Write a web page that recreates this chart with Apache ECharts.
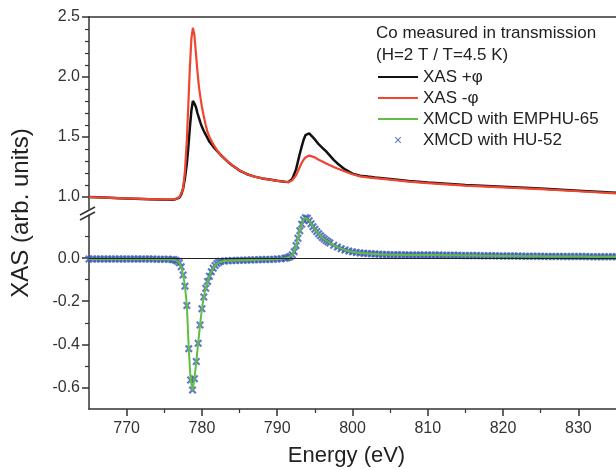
<!DOCTYPE html>
<html>
<head>
<meta charset="utf-8">
<script src="https://cdn.jsdelivr.net/npm/echarts@6.0.0/dist/echarts.min.js"></script>
<style>
  html, body { margin: 0; padding: 0; background: #fff; }
  #main { width: 616px; height: 470px; }
</style>
</head>
<body>
<div id="main"></div>
<script>
// energy axis (eV) for the two XAS spectra
const xasEnergy = [765, 767, 769, 771, 773, 775, 776, 776.5, 777, 777.25, 777.5, 777.75, 778, 778.2, 778.4, 778.6, 778.8,
  779, 779.2, 779.4, 779.6, 779.8, 780, 780.25, 780.5, 780.75, 781, 781.5, 782, 782.5, 783, 783.5, 784, 785, 786, 787,
  788, 789, 790, 791, 791.5, 792, 792.5, 793, 793.25, 793.5, 793.75, 794, 794.25, 794.5, 795, 795.5, 796, 796.5, 797,
  797.5, 798, 799, 800, 801, 802, 803, 805, 807.5, 810, 815, 820, 825, 830, 835];
// XAS +phi (black)
const xasPlus = [1.000, 0.995, 0.990, 0.986, 0.982, 0.978, 0.978, 0.982, 0.995, 1.02, 1.07, 1.16, 1.28, 1.42, 1.58, 1.72, 1.80,
  1.78, 1.75, 1.70, 1.66, 1.62, 1.585, 1.55, 1.52, 1.49, 1.46, 1.42, 1.385, 1.35, 1.32, 1.29, 1.265, 1.22, 1.19, 1.17,
  1.155, 1.145, 1.135, 1.127, 1.125, 1.15, 1.23, 1.36, 1.42, 1.475, 1.515, 1.53, 1.53, 1.515, 1.48, 1.44, 1.41, 1.38, 1.345,
  1.31, 1.28, 1.23, 1.195, 1.178, 1.17, 1.163, 1.15, 1.133, 1.12, 1.10, 1.085, 1.07, 1.053, 1.035];
// XAS -phi (red)
const xasMinus = [1.000, 0.995, 0.990, 0.986, 0.982, 0.978, 0.979, 0.984, 1.000, 1.03, 1.07, 1.22, 1.48, 1.78, 2.08, 2.32, 2.41,
  2.35, 2.20, 2.05, 1.92, 1.83, 1.75, 1.67, 1.60, 1.54, 1.50, 1.44, 1.39, 1.35, 1.32, 1.29, 1.265, 1.22, 1.19, 1.17,
  1.155, 1.145, 1.135, 1.127, 1.124, 1.14, 1.18, 1.25, 1.285, 1.31, 1.33, 1.34, 1.345, 1.345, 1.33, 1.31, 1.295, 1.28, 1.265,
  1.25, 1.237, 1.212, 1.19, 1.172, 1.164, 1.157, 1.145, 1.128, 1.115, 1.095, 1.08, 1.065, 1.048, 1.03];

// XMCD [energy, value]
const xmcdPoints = [
  [765, -0.004], [765.5, -0.004], [766, -0.004], [766.5, -0.004], [767, -0.004], [767.5, -0.004], [768, -0.004],
  [768.5, -0.004], [769, -0.004], [769.5, -0.004], [770, -0.004], [770.5, -0.004], [771, -0.004], [771.5, -0.004],
  [772, -0.004], [772.5, -0.004], [773, -0.004], [773.5, -0.004], [774, -0.005], [774.5, -0.005], [775, -0.005],
  [775.5, -0.005], [776, -0.006],
  [776.25, -0.007], [776.5, -0.010], [776.75, -0.015], [777, -0.022], [777.25, -0.040], [777.5, -0.078], [777.75, -0.13],
  [778, -0.22], [778.25, -0.42], [778.5, -0.565], [778.75, -0.612], [779, -0.56], [779.25, -0.48], [779.5, -0.395],
  [779.75, -0.31], [780, -0.235], [780.25, -0.18], [780.5, -0.14], [780.75, -0.108], [781, -0.084], [781.25, -0.063],
  [781.5, -0.047], [781.75, -0.034], [782, -0.025], [782.25, -0.019], [782.5, -0.015],
  [783, -0.013], [783.5, -0.012], [784, -0.011], [784.5, -0.011], [785, -0.010], [785.5, -0.010], [786, -0.009],
  [786.5, -0.009], [787, -0.008], [787.5, -0.008], [788, -0.007], [788.5, -0.006], [789, -0.006], [789.5, -0.005],
  [790, -0.004], [790.5, -0.003], [791, -0.001],
  [791.25, 0.001], [791.5, 0.004], [791.75, 0.008], [792, 0.016], [792.25, 0.030], [792.5, 0.058], [792.75, 0.092],
  [793, 0.127], [793.25, 0.157], [793.5, 0.177], [793.75, 0.187], [794, 0.185], [794.25, 0.173], [794.5, 0.159],
  [794.75, 0.146], [795, 0.134], [795.25, 0.123], [795.5, 0.113], [795.75, 0.104], [796, 0.096], [796.25, 0.089],
  [796.5, 0.082], [796.75, 0.076], [797, 0.070],
  [797.5, 0.060], [798, 0.051], [798.5, 0.044], [799, 0.038], [799.5, 0.033], [800, 0.029], [800.5, 0.026], [801, 0.024],
  [801.5, 0.022], [802, 0.021], [802.5, 0.020], [803, 0.019], [803.5, 0.018], [804, 0.017], [804.5, 0.017], [805, 0.016],
  [805.5, 0.016], [806, 0.016], [806.5, 0.016], [807, 0.015], [807.5, 0.015], [808, 0.015], [808.5, 0.015], [809, 0.015],
  [809.5, 0.014], [810, 0.014], [810.5, 0.014], [811, 0.014], [811.5, 0.014], [812, 0.013], [812.5, 0.013], [813, 0.013],
  [813.5, 0.013], [814, 0.013], [814.5, 0.012], [815, 0.012], [815.5, 0.012], [816, 0.012], [816.5, 0.012], [817, 0.011],
  [817.5, 0.011], [818, 0.011], [818.5, 0.011], [819, 0.011], [819.5, 0.010], [820, 0.010], [820.5, 0.010], [821, 0.010],
  [821.5, 0.010], [822, 0.010], [822.5, 0.009], [823, 0.009], [823.5, 0.009], [824, 0.009], [824.5, 0.009], [825, 0.009],
  [825.5, 0.008], [826, 0.008], [826.5, 0.008], [827, 0.008], [827.5, 0.008], [828, 0.008], [828.5, 0.007], [829, 0.007],
  [829.5, 0.007], [830, 0.007], [830.5, 0.007], [831, 0.007], [831.5, 0.006], [832, 0.006], [832.5, 0.006], [833, 0.006],
  [833.5, 0.006], [834, 0.006], [834.5, 0.006], [835, 0.006]
];

// tick positions
const xMajor = [770, 780, 790, 800, 810, 820, 830];
const xMinor = [775, 785, 795, 805, 815, 825];
const upMajor = [1.0, 1.5, 2.0, 2.5];
const upMinor = [1.1, 1.2, 1.3, 1.4, 1.6, 1.7, 1.8, 1.9, 2.1, 2.2, 2.3, 2.4];
const lowMajor = [-0.6, -0.4, -0.2, 0.0];
const lowMinor = [-0.5, -0.3, -0.1, 0.1];

const seriesNames = ['XAS +\u03c6', 'XAS -\u03c6', 'XMCD with EMPHU-65', 'XMCD with HU-52'];

const FONT = 'Liberation Sans, Arial, sans-serif';
const AXIS = '#333';
const crossPath = 'path://M0,1.9L1.9,0L5,3.1L8.1,0L10,1.9L6.9,5L10,8.1L8.1,10L5,6.9L1.9,10L0,8.1L3.1,5Z';
// legend icons, with tiny corner dots so the drawn part keeps its size in the 40x14 box
const box = 'M0,0L0.01,0L0,0.01Z M40,14L39.99,14L40,13.99Z ';
const lineLegend = 'path://' + box + 'M0,6L40,6L40,8L0,8Z';
const crossLegend = 'path://' + box +
  'M16.8,4.6L17.6,3.8L20,6.2L22.4,3.8L23.2,4.6L20.8,7L23.2,9.4L22.4,10.2L20,7.8L17.6,10.2L16.8,9.4L19.2,7Z';

let chart = echarts.init(document.getElementById('main'), null, { renderer: 'canvas' });

const pairs = (xs, ys) => xs.map((x, i) => [x, ys[i]]);

const majorY = (grid, min, max, ticks) => ({
  type: 'value', gridIndex: grid, min: min, max: max, position: 'left',
  axisLine: { show: true, onZero: false, lineStyle: { color: AXIS, width: 1.5 } },
  axisTick: { show: true, length: 7, customValues: ticks, lineStyle: { color: AXIS, width: 1.5 } },
  axisLabel: { show: true, customValues: ticks, margin: 9, color: '#333', fontSize: 16, fontFamily: FONT,
    formatter: v => v.toFixed(1) },
  splitLine: { show: false }
});
const minorY = (grid, min, max, ticks) => ({
  type: 'value', gridIndex: grid, min: min, max: max, position: 'left',
  axisLine: { show: false, onZero: false },
  axisTick: { show: true, length: 4, customValues: ticks, lineStyle: { color: AXIS, width: 1.2 } },
  axisLabel: { show: false },
  splitLine: { show: false }
});

chart.setOption({
  animation: false,
  backgroundColor: '#fff',
  title: {
    text: 'Co measured in transmission\n(H=2 T / T=4.5 K)',
    left: 371, top: 17,
    textStyle: { fontSize: 17, fontWeight: 'normal', color: '#222', fontFamily: FONT, lineHeight: 22 }
  },
  legend: {
    orient: 'vertical', left: 373, top: 62,
    itemWidth: 40, itemHeight: 14, itemGap: 1,
    textStyle: { fontSize: 17, color: '#222', fontFamily: FONT, lineHeight: 20 },
    data: [
      { name: seriesNames[0], icon: lineLegend }, { name: seriesNames[1], icon: lineLegend },
      { name: seriesNames[2], icon: lineLegend }, { name: seriesNames[3], icon: crossLegend }
    ]
  },
  grid: [
    { left: 89, right: -3, top: 17, height: 192 },
    { left: 89, right: -3, top: 215, height: 194 },
    { left: 89, right: -3, top: 17, height: 392 }
  ],
  xAxis: [
    { type: 'value', gridIndex: 0, min: 765, max: 835, position: 'top',
      axisLine: { show: true, onZero: false, lineStyle: { color: AXIS, width: 1.5 } },
      axisTick: { show: false }, axisLabel: { show: false }, splitLine: { show: false } },
    { type: 'value', gridIndex: 1, min: 765, max: 835, position: 'bottom',
      axisLine: { show: true, onZero: false, lineStyle: { color: AXIS, width: 1.5 } },
      axisTick: { show: true, length: 7, customValues: xMajor, lineStyle: { color: AXIS, width: 1.5 } },
      axisLabel: { show: true, customValues: xMajor, margin: 12, color: '#333', fontSize: 16, fontFamily: FONT },
      splitLine: { show: false },
      name: 'Energy (eV)', nameLocation: 'middle', nameGap: 36,
      nameTextStyle: { fontSize: 22, color: '#222', fontFamily: FONT, padding: [0, 12, 0, 0] } },
    { type: 'value', gridIndex: 1, min: 765, max: 835, position: 'bottom',
      axisLine: { show: false, onZero: false },
      axisTick: { show: true, length: 4, customValues: xMinor, lineStyle: { color: AXIS, width: 1.2 } },
      axisLabel: { show: false }, splitLine: { show: false } },
    { type: 'value', gridIndex: 2, min: 765, max: 835, show: false }
  ],
  yAxis: [
    majorY(0, 0.9, 2.5, upMajor),
    minorY(0, 0.9, 2.5, upMinor),
    majorY(1, -0.7, 0.2, lowMajor),
    minorY(1, -0.7, 0.2, lowMinor),
    { type: 'value', gridIndex: 2, min: 0, max: 1, position: 'left',
      axisLine: { show: false }, axisTick: { show: false }, axisLabel: { show: false }, splitLine: { show: false },
      name: 'XAS (arb. units)', nameLocation: 'middle', nameGap: 56,
      nameTextStyle: { fontSize: 24, color: '#222', fontFamily: FONT } }
  ],
  graphic: [
    { type: 'line', shape: { x1: 80, y1: 215, x2: 95, y2: 207 }, style: { stroke: AXIS, lineWidth: 1.5 } },
    { type: 'line', shape: { x1: 80, y1: 220, x2: 95, y2: 212 }, style: { stroke: AXIS, lineWidth: 1.5 } }
  ],
  series: [
    { name: seriesNames[0], type: 'line', xAxisIndex: 0, yAxisIndex: 0, data: pairs(xasEnergy, xasPlus),
      symbol: 'none', color: '#111', lineStyle: { color: '#111', width: 2.5 } },
    { name: seriesNames[1], type: 'line', xAxisIndex: 0, yAxisIndex: 0, data: pairs(xasEnergy, xasMinus),
      symbol: 'none', color: '#f04630', lineStyle: { color: '#f04630', width: 2.2 } },
    { name: seriesNames[2], type: 'line', xAxisIndex: 1, yAxisIndex: 2, data: xmcdPoints,
      symbol: 'none', color: '#62bd45', lineStyle: { color: '#62bd45', width: 2 },
      markLine: { silent: true, symbol: ['none', 'none'], label: { show: false },
        lineStyle: { color: '#222', width: 1.2, type: 'solid' }, data: [{ yAxis: 0 }] } },
    { name: seriesNames[3], type: 'scatter', xAxisIndex: 1, yAxisIndex: 2, data: xmcdPoints,
      symbol: crossPath, symbolSize: 8, itemStyle: { color: '#3a5ab4' } }
  ]
});
</script>
</body>
</html>
